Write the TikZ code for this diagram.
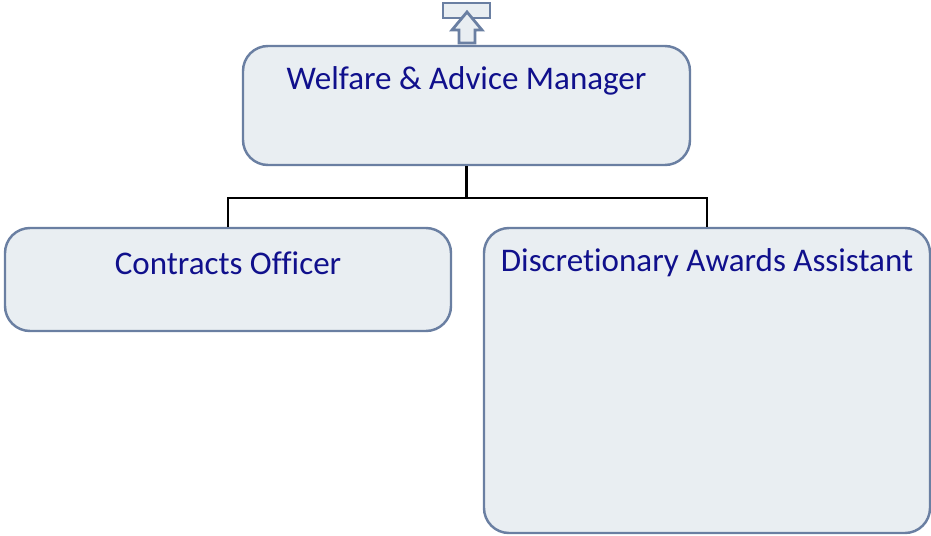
\documentclass[tikz,border=0pt]{standalone}
\usepackage{fontspec}
\setmainfont{Carlito}[Ligatures=NoCommon]
\usepackage{xcolor}
\definecolor{boxfill}{HTML}{E9EEF2}
\definecolor{boxline}{HTML}{6A7FA2}
\definecolor{boxtext}{HTML}{10108C}

\tikzset{
  post/.style={draw=boxline,fill=boxfill,line width=1.4pt,rounded corners=0.5cm,inner sep=0pt},
  title/.style={text=boxtext,font=\fontsize{18.8}{21}\selectfont,inner sep=0pt}
}

\begin{document}
\begin{tikzpicture}[line width=1.2pt]
  \useasboundingbox (0,0) rectangle (18.62,-10.7);

  % boxes
  \node[post,minimum width=8.94cm,minimum height=2.38cm] (mgr) at (9.33,-2.11) {};
  \node[post,minimum width=8.92cm,minimum height=2.06cm] (co)  at (4.56,-5.59) {};
  \node[post,minimum width=8.92cm,minimum height=6.10cm] (daa) at (14.14,-7.61) {};

  \node[title] (mgrtxt) at ([yshift=-0.72cm]mgr.north) {Welfare \& Advice Manager};
  \node[title] (cotxt)  at ([yshift=-0.72cm]co.north)  {Contracts Officer};
  \node[title] (daatxt) at ([yshift=-0.72cm]daa.north) {Discretionary Awards Assistant};

  % up marker above the manager
  \draw[draw=boxline,fill=boxfill,line width=1.6pt] (8.86,-0.06) rectangle (9.8,-0.36);
  \draw[draw=boxline,fill=boxfill,line width=1.6pt,line join=miter]
    (9.34,-0.24) -- (9.64,-0.6) -- (9.5,-0.6) -- (9.5,-0.86) -- (9.18,-0.86)
    -- (9.18,-0.6) -- (9.04,-0.6) -- cycle;

  % connectors
  \coordinate (fork) at ([yshift=-0.64cm]mgr.south);
  \draw (mgr.south) -- (fork);
  \draw (fork) -| (co.north);
  \draw (fork) -| (daa.north);
\end{tikzpicture}
\end{document}
